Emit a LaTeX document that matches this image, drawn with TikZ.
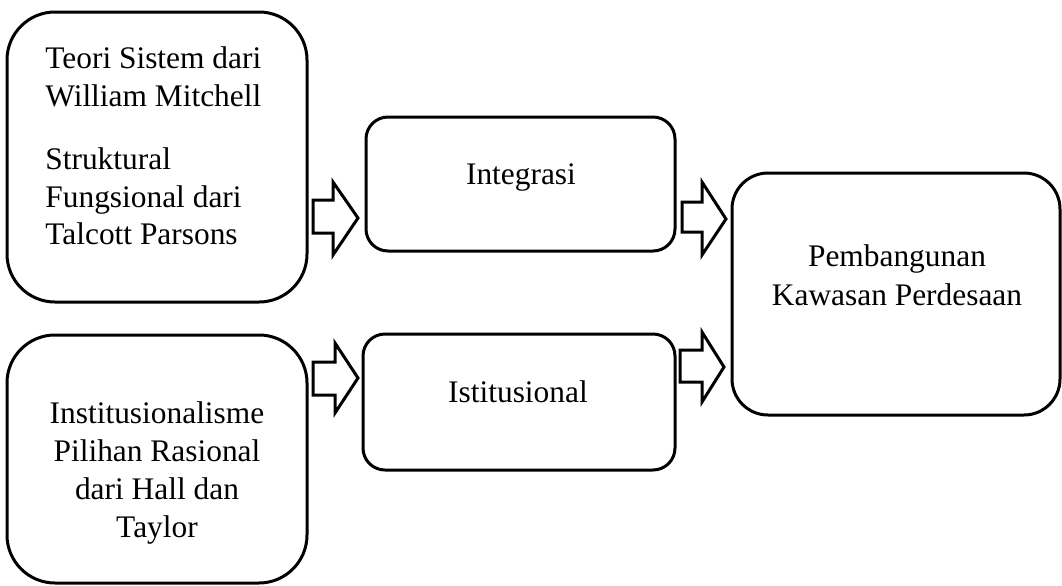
\documentclass[tikz,border=0pt]{standalone}
\usepackage{fontspec}
\setmainfont{Liberation Serif}
\begin{document}
\begin{tikzpicture}[x=0.5pt,y=-0.5pt,
  box/.style={draw, line width=1.5pt, inner sep=0pt},
  txt/.style={inner sep=0pt, font=\fontsize{15.7}{18.75}\selectfont},
  blockarrow/.style={draw, line width=1.5pt, fill=white, line join=miter}]
\useasboundingbox (0,0) rectangle (1062,585);
% boxes
\node[box, rounded corners=24pt, minimum width=150pt, minimum height=145pt] (b1) at (157,157) {};
\node[box, rounded corners=24pt, minimum width=150pt, minimum height=124pt] (b4) at (157,459) {};
\node[box, rounded corners=11pt, minimum width=154.5pt, minimum height=67pt] (bi) at (520.5,184) {};
\node[box, rounded corners=11pt, minimum width=156pt, minimum height=68pt] (bs) at (519,402) {};
\node[box, rounded corners=18pt, minimum width=164pt, minimum height=121pt] (bp) at (896,294) {};
% texts
\node[txt, anchor=base west] (t1a) at (45,68) {Teori Sistem dari};
\node[txt, anchor=base west] (t1b) at (45,106) {William Mitchell};
\node[txt, anchor=base west] (t1c) at (45,169) {Struktural};
\node[txt, anchor=base west] (t1d) at (45,207) {Fungsional dari};
\node[txt, anchor=base west] (t1e) at (45,244) {Talcott Parsons};
\node[txt, anchor=base] (t4a) at (157,423) {Institusionalisme};
\node[txt, anchor=base] (t4b) at (157,461) {Pilihan Rasional};
\node[txt, anchor=base] (t4c) at (157,499) {dari Hall dan};
\node[txt, anchor=base] (t4d) at (157,537) {Taylor};
\node[txt, anchor=base] (ti) at (521,184) {Integrasi};
\node[txt, anchor=base] (ts) at (518,402) {Istitusional};
\node[txt, anchor=base] (tp1) at (897,266) {Pembangunan};
\node[txt, anchor=base] (tp2) at (897,305) {Kawasan Perdesaan};
% block arrows
\draw[blockarrow] (313,200) -- (333,200) -- (333,182) -- (358,218) -- (333,255) -- (333,233) -- (313,233) -- cycle;
\draw[blockarrow] (313,362) -- (335,362) -- (335,343) -- (358,378) -- (335,413) -- (335,395) -- (313,395) -- cycle;
\draw[blockarrow] (682,202) -- (702,202) -- (702,182) -- (726,219) -- (702,255) -- (702,232) -- (682,232) -- cycle;
\draw[blockarrow] (680,350) -- (702,350) -- (702,332) -- (724,367) -- (702,402) -- (702,382) -- (680,382) -- cycle;
\end{tikzpicture}
\end{document}
